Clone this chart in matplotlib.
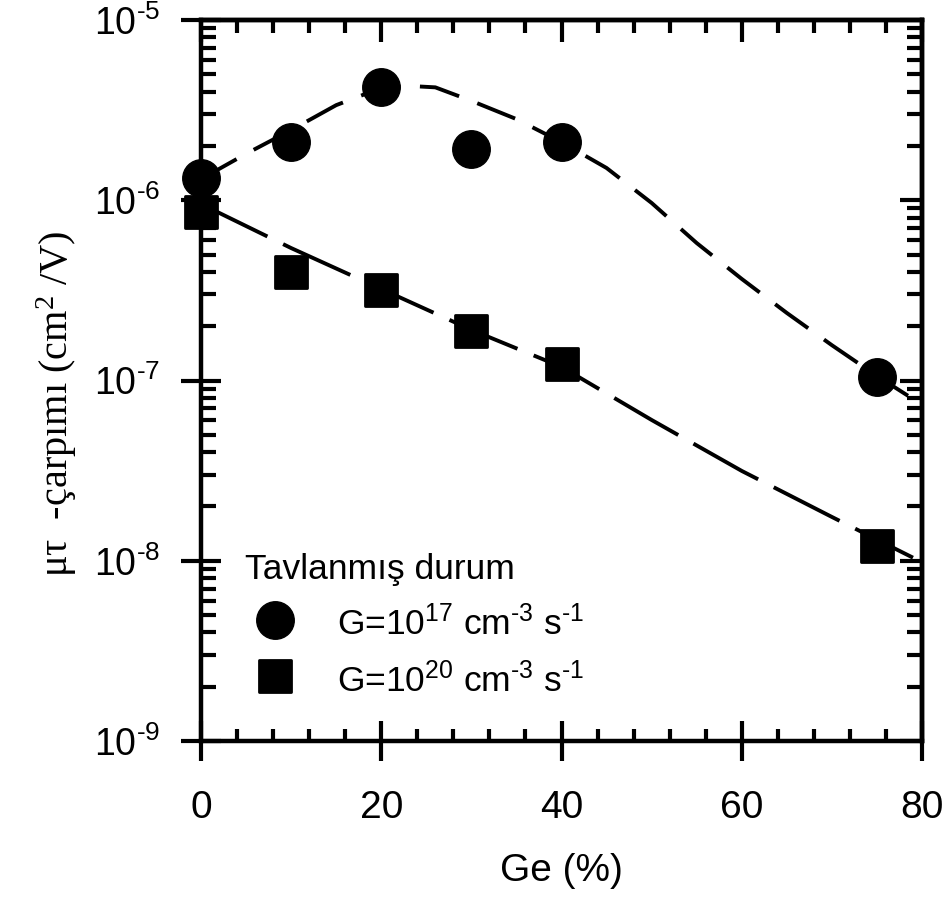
import matplotlib
matplotlib.use("Agg")
import matplotlib.pyplot as plt
from matplotlib.markers import MarkerStyle
from matplotlib.ticker import FixedLocator, MultipleLocator, NullFormatter

# measured points (Ge %, mu-tau product in cm^2/V)
ge_pts = [0, 10, 20, 30, 40, 75]
mt_g17 = [1.33e-6, 2.11e-6, 4.23e-6, 1.92e-6, 2.11e-6, 1.05e-7]
mt_g20 = [8.6e-7, 4.0e-7, 3.19e-7, 1.89e-7, 1.24e-7, 1.20e-8]

# guide-to-the-eye curves
ge_fit17 = [0, 5, 10, 15, 20, 23, 26, 30, 35, 40, 45, 50, 55, 60, 65, 70, 75, 79]
mt_fit17 = [1.31e-6, 1.81e-6, 2.45e-6, 3.37e-6, 4.20e-6, 4.31e-6, 4.23e-6, 3.56e-6,
            2.82e-6, 2.10e-6, 1.51e-6, 9.66e-7, 5.79e-7, 3.66e-7, 2.37e-7, 1.57e-7,
            1.06e-7, 7.9e-8]
ge_fit20 = [0, 10, 20, 30, 40, 50, 60, 70, 79]
mt_fit20 = [9.53e-7, 5.43e-7, 3.22e-7, 1.91e-7, 1.19e-7, 6.04e-8, 3.15e-8, 1.75e-8, 1.04e-8]

x_ticks = [0, 20, 40, 60, 80]
y_ticks = [1e-9, 1e-8, 1e-7, 1e-6, 1e-5]
y_ticklabels = [r"$\mathregular{10^{\text{-}9}}$", r"$\mathregular{10^{\text{-}8}}$",
                r"$\mathregular{10^{\text{-}7}}$", r"$\mathregular{10^{\text{-}6}}$",
                r"$\mathregular{10^{\text{-}5}}$"]
legend_title = "Tavlanmış durum"
labels = [r"G=10$\mathregular{^{17}}$ cm$\mathregular{^{\text{-}3}}$ s$\mathregular{^{\text{-}1}}$",
          r"G=10$\mathregular{^{20}}$ cm$\mathregular{^{\text{-}3}}$ s$\mathregular{^{\text{-}1}}$"]

plt.rcParams["font.family"] = ["Liberation Sans", "DejaVu Sans"]
plt.rcParams["mathtext.fontset"] = "custom"
plt.rcParams["mathtext.rm"] = "Liberation Sans"

fig = plt.figure(figsize=(9.52, 8.97), dpi=100)
ax = fig.add_axes([201 / 952, 156 / 897, 721 / 952, 721 / 897])

ax.plot(ge_fit17, mt_fit17, color="k", lw=2.8, dashes=(10.5, 5), clip_on=False, zorder=2)
ax.plot(ge_fit20, mt_fit20, color="k", lw=2.8, dashes=(19, 4.5), clip_on=False, zorder=2)
h1, = ax.plot(ge_pts, mt_g17, marker="o", ls="none", color="k", ms=27, mew=1,
              clip_on=False, zorder=3)
h2, = ax.plot(ge_pts, mt_g20, marker=MarkerStyle("s", joinstyle="round"), ls="none",
              color="k", ms=23.5, mew=2, clip_on=False, zorder=3)

ax.set_yscale("log")
ax.set_xlim(0, 80)
ax.set_ylim(1e-9, 1e-5)

ax.xaxis.set_major_locator(FixedLocator(x_ticks))
ax.xaxis.set_minor_locator(MultipleLocator(4))
ax.set_yticks(y_ticks)
ax.set_yticklabels(y_ticklabels)
ax.yaxis.set_minor_formatter(NullFormatter())

for s in ax.spines.values():
    s.set_linewidth(3.2)
ax.tick_params(which="major", direction="inout", length=28.8, width=3, top=False, right=False)
ax.tick_params(axis="x", which="major", labelsize=28, pad=21)
ax.tick_params(axis="y", which="major", labelsize=27, pad=15)
ax.tick_params(axis="x", which="minor", direction="in", length=9, width=3, top=False)
ax.tick_params(axis="y", which="minor", direction="in", length=11, width=3, right=False)

# inward ticks on the top and right edges
secx = ax.secondary_xaxis("top")
secx.xaxis.set_major_locator(FixedLocator(x_ticks))
secx.xaxis.set_minor_locator(MultipleLocator(4))
secx.tick_params(which="major", direction="in", length=15.5, width=3, labeltop=False)
secx.tick_params(which="minor", direction="in", length=9, width=3)
secx.spines["top"].set_linewidth(3.2)

secy = ax.secondary_yaxis("right")
secy.tick_params(which="major", direction="in", length=16, width=3, labelright=False)
secy.tick_params(which="minor", direction="in", length=11, width=3)
secy.yaxis.set_minor_formatter(NullFormatter())
secy.spines["right"].set_linewidth(3.2)

ax.set_xlabel("Ge (%)", fontsize=28)
ax.xaxis.set_label_coords(0.5, -0.156)

fig.text(57 / 952, 1 - 404 / 897, r"μτ  -çarpımı (cm$\mathregular{^{2}}$ /V)",
         rotation=90, ha="center", va="center", fontsize=29,
         family=["Liberation Serif", "DejaVu Serif"])

ax.legend([h1, h2], labels, title=legend_title, loc="upper left",
          bbox_to_anchor=(245 / 952, 1 - 553 / 897), bbox_transform=fig.transFigure,
          frameon=False, borderpad=0, borderaxespad=0, handlelength=1.7,
          handleheight=1.3, handletextpad=0.9, labelspacing=0.51, fontsize=25.5,
          title_fontsize=25.5, alignment="left")

fig.savefig("out.png", dpi=100)
